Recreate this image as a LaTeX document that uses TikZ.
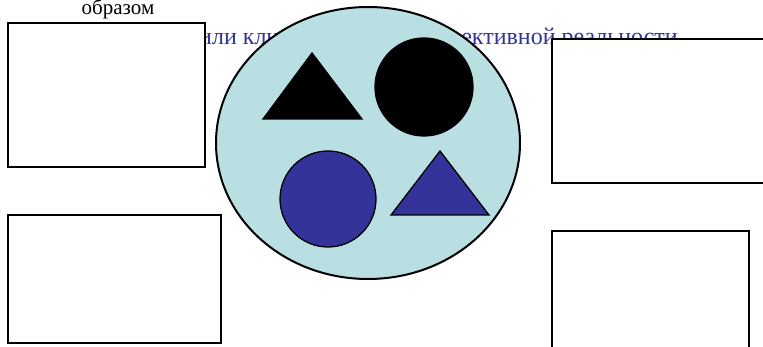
\documentclass[tikz,border=0pt]{standalone}
\usepackage{fontspec}
\setmainfont{Liberation Serif}
\definecolor{myblue}{HTML}{333399}
\definecolor{lightcyan}{HTML}{B9DFE3}
\tikzset{
  box/.style={draw=black, fill=white, line width=2.3pt, inner sep=0pt},
  oval/.style={ellipse, draw=black, fill=lightcyan, line width=2pt, inner sep=0pt},
  blk/.style={draw=black, fill=black, line width=1.3pt},
  blu/.style={draw=black, fill=myblue, line width=1.3pt},
  bluetext/.style={inner sep=0pt, font=\fontsize{24}{28}\selectfont, text=myblue},
}
\usetikzlibrary{shapes.geometric}
\begin{document}
\begin{tikzpicture}[x=1pt,y=-1pt]
\clip (0,0) rectangle (763,347);
\useasboundingbox (0,0) rectangle (763,347);
\fill[white] (0,0) rectangle (763,347);
% texts
\node[anchor=base, inner sep=0pt, font=\fontsize{21}{24}\selectfont] (obr) at (118,15) {образом};
\node[bluetext, anchor=base west] (txta) at (199,45) {или клише образов};
\node[bluetext, anchor=base east] (txtb) at (678,45) {объективной реальности};
% ellipse
\node[oval, minimum width=304pt, minimum height=272pt] (ell) at (368,143) {};
% shapes
\draw[blk] (312,53) -- (362,119) -- (263,119) -- cycle;
\node[circle, blk, minimum size=98pt, inner sep=0pt] (bc) at (424,87) {};
\node[circle, blu, minimum size=96pt, inner sep=0pt] (uc) at (328,199) {};
\draw[blu] (440,151) -- (489,215) -- (391,215) -- cycle;
% boxes
\node[box, minimum width=197pt, minimum height=144pt] (b1) at (106.5,95) {};
\node[box, minimum width=213pt, minimum height=128pt] (b2) at (114.5,279) {};
\node[box, minimum width=218pt, minimum height=144pt] (b3) at (661,111) {};
\node[box, minimum width=197pt, minimum height=124pt] (b4) at (650.5,293) {};
\end{tikzpicture}
\end{document}
